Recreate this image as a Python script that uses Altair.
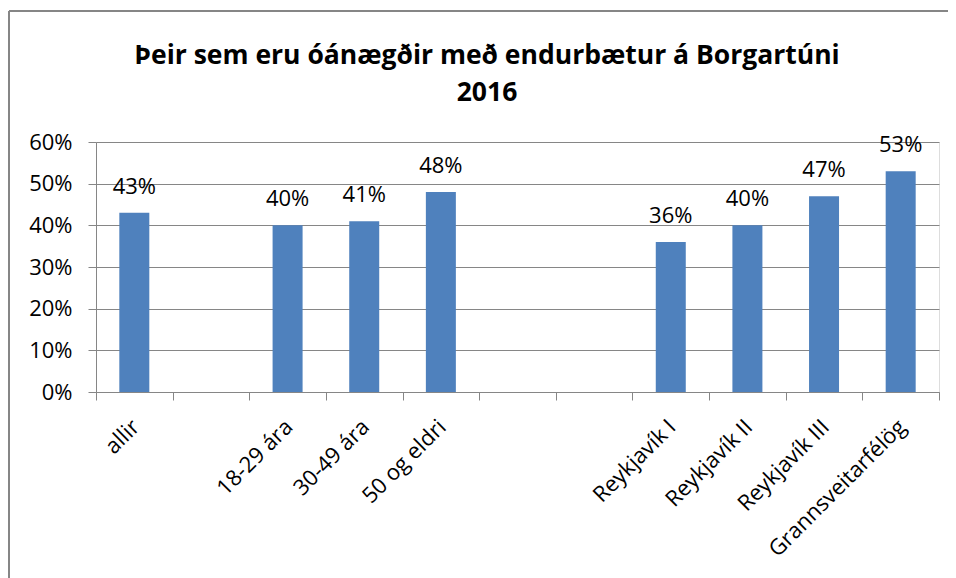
import altair as alt
import pandas as pd

categories = ["allir", " ", "18-29 ára", "30-49 ára", "50 og eldri", "  ", "   ",
              "Reykjavík I", "Reykjavík II", "Reykjavík III", "Grannsveitarfélög"]
values = [0.43, None, 0.40, 0.41, 0.48, None, None, 0.36, 0.40, 0.47, 0.53]
title_text = "Þeir sem eru óánægðir með endurbætur á Borgartúni\n2016"
y_ticks = [0, 0.1, 0.2, 0.3, 0.4, 0.5, 0.6]

df = pd.DataFrame({"cat": categories, "val": values})
df_bars = df.dropna()

FONT = "Open Sans"
GRAY = "#868686"
BLUE = "#4F81BD"

x_enc = alt.X("cat:N", sort=categories,
              scale=alt.Scale(domain=categories, paddingInner=0, paddingOuter=0),
              axis=alt.Axis(title=None, labelAngle=-45, labelAlign="right", labelBaseline="middle",
                            labelPadding=23, labelOffset=1, tickBand="extent", tickSize=8,
                            labelFontSize=22, labelFont=FONT, labelColor="#000000", labelLimit=400,
                            domainColor=GRAY, tickColor=GRAY, grid=False, labelOverlap=False))
y_enc = alt.Y("val:Q", scale=alt.Scale(domain=[0, 0.6], nice=False),
              axis=alt.Axis(title=None, format=".0%", values=y_ticks, tickSize=8, labelPadding=16,
                            labelFontSize=22, labelFont=FONT, labelColor="#000000",
                            domainColor=GRAY, tickColor=GRAY, gridColor=GRAY, grid=True))

bars = alt.Chart(df_bars).mark_bar(size=30, color=BLUE).encode(x=x_enc, y=y_enc)
labels = alt.Chart(df_bars).mark_text(dy=-19, baseline="alphabetic", fontSize=22, font=FONT,
                                       color="#000000").encode(
    x=alt.X("cat:N", sort=categories), y="val:Q", text=alt.Text("val:Q", format=".0%"))

title = alt.Chart(df_bars.head(1)).mark_text(
    text=title_text, lineBreak="\n", lineHeight=37, fontSize=26.5, font=FONT, fontWeight="bold",
    align="center", baseline="alphabetic", color="#000000").encode(
    x=alt.value(391), y=alt.value(-78))

border_top = alt.Chart(df_bars.head(1)).mark_rule(color=GRAY, strokeWidth=2).encode(
    x=alt.value(-87), x2=alt.value(900), y=alt.value(-131))
border_left = alt.Chart(df_bars.head(1)).mark_rule(color=GRAY, strokeWidth=2).encode(
    x=alt.value(-87), y=alt.value(-131), y2=alt.value(500))

chart = alt.layer(border_top, border_left, title, bars, labels).properties(
    width=843, height=250,
    autosize=alt.AutoSizeParams(type="none"),
    padding={"left": 88, "top": 134, "right": 9, "bottom": 186},
).configure_view(stroke=None).configure(background="white")

chart.save("out.html", embed_options={"renderer": "svg", "actions": False})
